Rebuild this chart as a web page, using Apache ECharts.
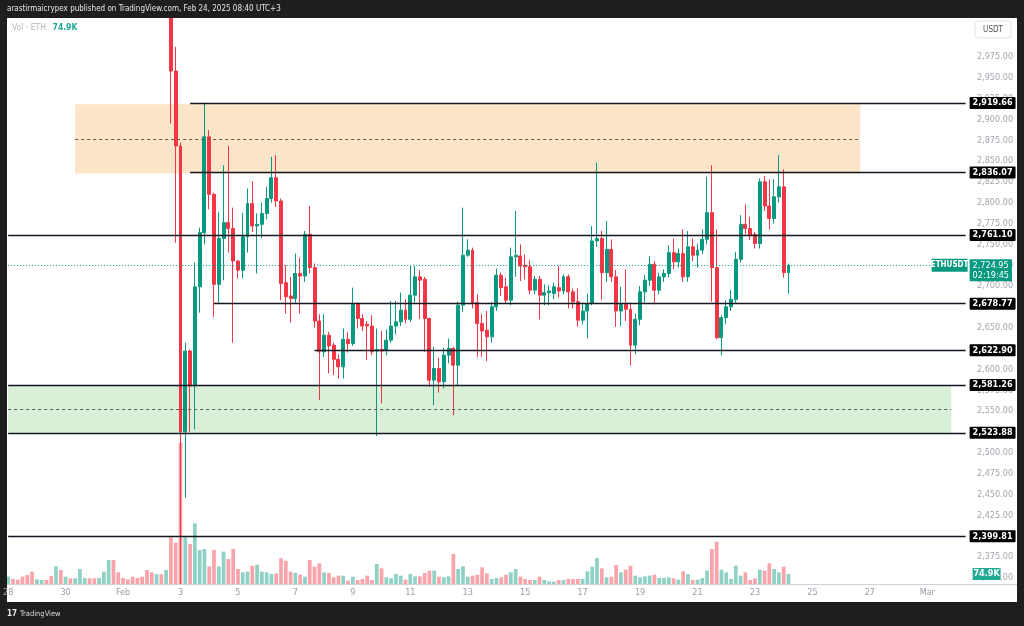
<!DOCTYPE html>
<html><head><meta charset="utf-8">
<script src="https://cdn.jsdelivr.net/npm/echarts@6/dist/echarts.min.js"></script>
<style>html,body{margin:0;padding:0;background:#1e1e1e;}#c{width:1024px;height:626px;}</style>
</head><body><div id="c"></div>
<script>
const FONT = "'Liberation Sans Narrow','DejaVu Sans Condensed','Noto Sans',sans-serif";

// 4h candles (UTC+3), first slot Jan 28 03:00
const slotCount = 201;
const timeTickDays = ['01-28','01-30','02-01','02-03','02-05','02-07','02-09','02-11','02-13','02-15','02-17','02-19','02-21','02-23','02-25','02-27','03-01'];
const timeTickLabels = ['28','30','Feb','3','5','7','9','11','13','15','17','19','21','23','25','27','Mar'];

// [open, close, low, high]
const ohlc = [
 [3160,3180,3148,3195],[3180,3150,3140,3188],[3150,3120,3110,3158],[3120,3100,3090,3128],[3100,3080,3068,3110],[3080,3070,3055,3092],
 [3070,3090,3062,3098],[3090,3110,3082,3120],[3110,3090,3080,3118],[3090,3075,3062,3100],[3075,3130,3068,3140],[3130,3110,3100,3138],
 [3110,3160,3104,3170],[3160,3150,3140,3168],[3150,3190,3145,3198],[3190,3240,3184,3252],[3240,3260,3232,3270],[3260,3245,3236,3266],
 [3245,3230,3220,3252],[3230,3260,3224,3268],[3260,3300,3254,3310],[3300,3380,3292,3400],[3380,3330,3320,3390],[3330,3300,3290,3338],
 [3300,3290,3280,3310],[3290,3270,3260,3298],[3270,3250,3240,3278],[3250,3230,3220,3258],[3230,3190,3180,3238],[3190,3140,3125,3196],
 [3140,3110,3095,3148],[3110,3130,3100,3138],[3130,3080,3062,3136],[3080,3100,3070,3112],
 [3100,2958,2895,3110],[2958,2868,2752,2987],
 [2868,2525,2120,2872],[2525,2622,2446,2632],[2622,2580,2525,2624],[2580,2699,2528,2728],[2699,2764,2668,2770],[2764,2879,2750,2920],
 [2879,2810,2792,2887],[2810,2702,2663,2812],[2702,2757,2679,2789],[2757,2776,2707,2845],[2776,2769,2740,2868],[2769,2730,2632,2794],
 [2730,2719,2709,2731],[2719,2759,2709,2788],[2759,2799,2740,2817],[2799,2772,2765,2826],[2772,2774,2715,2787],[2774,2787,2757,2800],
 [2787,2805,2780,2819],[2805,2830,2800,2855],[2830,2802,2795,2857],[2802,2703,2683,2805],[2704,2687,2667,2725],[2688,2685,2656,2711],
 [2685,2715,2679,2739],[2715,2712,2667,2734],[2712,2762,2705,2766],[2762,2722,2715,2796],[2722,2658,2650,2727],[2658,2621,2563,2666],
 [2621,2641,2615,2666],[2641,2628,2595,2645],[2629,2612,2593,2632],[2612,2603,2589,2618],[2603,2636,2589,2649],[2636,2631,2620,2645],
 [2631,2678,2628,2698],[2678,2661,2649,2680],[2661,2652,2646,2666],[2654,2652,2611,2658],[2652,2621,2617,2665],[2622,2624,2520,2649],
 [2624,2622,2559,2646],[2623,2635,2617,2648],[2635,2652,2632,2682],[2652,2657,2642,2682],[2657,2671,2652,2692],[2671,2660,2655,2684],
 [2660,2689,2657,2724],[2689,2711,2680,2724],[2711,2707,2660,2719],[2708,2661,2621,2711],[2661,2587,2579,2662],[2587,2601,2557,2627],
 [2601,2585,2572,2614],[2585,2617,2577,2626],[2617,2625,2607,2637],[2625,2605,2545,2627],[2605,2677,2581,2681],[2677,2737,2669,2794],
 [2737,2743,2735,2756],[2743,2679,2673,2746],[2680,2655,2615,2690],[2655,2646,2615,2666],[2647,2639,2610,2670],[2639,2675,2632,2681],
 [2675,2713,2670,2721],[2713,2698,2688,2716],[2699,2683,2679,2710],[2683,2735,2677,2746],[2735,2737,2711,2790],[2736,2724,2706,2750],
 [2725,2723,2708,2738],[2723,2695,2690,2731],[2695,2708,2690,2712],[2708,2689,2660,2712],[2689,2692,2677,2702],[2692,2694,2677,2701],
 [2691,2699,2684,2704],[2698,2694,2686,2724],[2694,2711,2690,2714],[2711,2693,2673,2714],[2693,2681,2673,2697],[2681,2659,2651,2697],
 [2659,2670,2654,2680],[2670,2679,2637,2691],[2679,2754,2677,2772],[2754,2757,2747,2848],[2757,2716,2683,2766],[2716,2744,2705,2778],
 [2744,2711,2705,2756],[2711,2670,2651,2719],[2670,2678,2652,2699],[2678,2672,2658,2720],[2672,2629,2605,2680],[2629,2660,2618,2667],
 [2660,2693,2653,2700],[2693,2707,2680,2713],[2707,2726,2700,2736],[2726,2695,2678,2730],[2695,2711,2690,2716],[2711,2715,2705,2720],
 [2715,2740,2710,2749],[2740,2729,2720,2757],[2729,2739,2722,2745],[2739,2711,2705,2768],[2711,2747,2705,2766],[2747,2737,2730,2757],
 [2737,2743,2722,2751],[2743,2756,2738,2768],[2756,2788,2750,2831],[2788,2722,2681,2845],[2722,2638,2636,2768],[2638,2662,2617,2665],
 [2662,2675,2654,2683],[2675,2684,2670,2695],[2684,2732,2680,2741],[2732,2774,2728,2785],[2774,2769,2762,2798],[2769,2761,2755,2783],
 [2762,2751,2745,2765],[2751,2825,2745,2829],[2825,2796,2790,2832],[2796,2781,2768,2828],[2781,2807,2775,2828],[2807,2819,2800,2857],
 [2819,2716,2710,2840],[2716,2724.95,2691,2727]
];

// volume, thousand ETH
const volumeK = [
 55,37.5,32.5,55,67.5,92.5,35,30,30,60,
 132.5,105,55,42.5,42.5,112.5,45,42.5,42.5,45,
 92.5,180,180,87.5,45,35,55,45,55,105,
 87.5,75,72.5,105,
 350,310,1062,350,300,455,
 255,262.5,132.5,255,132.5,242.5,187.5,262.5,112.5,87.5,
 92.5,137.5,145,92.5,87.5,75,80,192.5,175,92.5,
 82.5,70,55,180,130,155,87.5,82.5,50,62.5,
 62.5,25,55,30,37.5,62.5,30,150,117.5,50,
 42.5,75,62.5,32.5,75,57.5,57.5,82.5,100,100,
 55,50,57.5,225,112.5,132.5,55,62.5,70,125,
 80,37.5,45,50,
 70,87.5,112.5,55,37.5,30,30,55,30,20,
 17.5,30,30,37.5,37.5,37.5,37.5,95,130,195,
 117.5,50,55,142.5,87.5,107.5,137.5,62.5,50,57.5,
 62.5,70,45,45,50,42.5,32.5,95,75,30,
 32.5,45,100,262.5,317.5,107.5,87.5,37.5,137.5,62.5,
 87.5,30,42.5,107.5,100,155,112.5,87.5,130,74.9
];

const levelPrices = [2919.66, 2836.07, 2761.10, 2678.77, 2622.90, 2581.26, 2523.88, 2399.81];
const levelStart  = [38, 38, 0, 43, 64, 0, 0, 0];
const supplyZonePrices = [2835, 2918];
const supplyZoneSpan = [14, 178];
const demandZonePrices = [2523.88, 2581.26];
const demandZoneSpan = [0, 197];
const lastPrice = 2724.95;
const lastCountdown = '02:19:45';
const lastVolumeK = 74.9;
const priceTickRange = [2350, 2975];

// ---------- build ----------
const UP = '#089981', DOWN = '#f23645';
const pad = n => (n < 10 ? '0' : '') + n;
const categories = [];
const t0 = Date.UTC(2025, 0, 28, 3);
for (let i = 0; i < slotCount; i++) {
  const d = new Date(t0 + i * 4 * 3600 * 1000);
  categories.push(pad(d.getUTCMonth() + 1) + '-' + pad(d.getUTCDate()) + ' ' + pad(d.getUTCHours()) + ':00');
}
const tickMap = {};
timeTickDays.forEach((d, i) => { tickMap[d + ' 03:00'] = timeTickLabels[i]; });
const lastIdx = slotCount - 1;
const fmt = v => v.toLocaleString('en-US', {minimumFractionDigits: 2, maximumFractionDigits: 2});

const levelLines = levelPrices.map((p, i) => [
  {coord: [levelStart[i], p], lineStyle: {color: '#131722', width: 1.4, type: 'solid'},
   label: {show: true, position: 'end', distance: 4, formatter: fmt(p), backgroundColor: '#000', color: '#fff',
           fontWeight: 'bold', fontSize: 9, fontFamily: FONT, padding: [2, 3, 1, 3], borderRadius: 1}},
  {coord: [lastIdx, p]}
]);
const midSupply = (supplyZonePrices[0] + supplyZonePrices[1]) / 2;
const midDemand = (demandZonePrices[0] + demandZonePrices[1]) / 2;
const dashLines = [
  [{coord: [supplyZoneSpan[0], midSupply], lineStyle: {color: '#6b5a48', width: 1, type: [3, 3]}, label: {show: false}}, {coord: [supplyZoneSpan[1], midSupply]}],
  [{coord: [demandZoneSpan[0], midDemand], lineStyle: {color: '#55605a', width: 1, type: [3, 3]}, label: {show: false}}, {coord: [demandZoneSpan[1], midDemand]}]
];
const lastLine = [
  {coord: [0, lastPrice], lineStyle: {color: UP, width: 1, type: [1, 2]},
   label: {show: true, position: 'end', distance: 4, formatter: fmt(lastPrice) + '\n' + lastCountdown, backgroundColor: UP,
           color: '#fff', fontSize: 9, fontFamily: FONT, lineHeight: 10, padding: [1, 3, 1, 3], offset: [0, 5]}},
  {coord: [lastIdx, lastPrice]}
];

const volData = volumeK.map((v, i) => ({value: v, itemStyle: {color: ohlc[i][1] >= ohlc[i][0] ? 'rgba(8,153,129,0.45)' : 'rgba(242,54,69,0.45)'}}));

const option = {
  animation: false,
  backgroundColor: '#1e1e1e',
  textStyle: {fontFamily: FONT},
  grid: [
    {left: 5, right: 56, top: 18, bottom: 42},
    {left: 5, right: 56, top: 15.2, bottom: 27.5}
  ],
  xAxis: [
    {type: 'category', gridIndex: 0, data: categories, boundaryGap: true, z: 110,
     axisLine: {show: false}, axisTick: {show: false}, splitLine: {show: false},
     axisLabel: {interval: (idx, val) => tickMap[val] !== undefined, formatter: val => tickMap[val] || '',
                 color: '#9a9da6', fontSize: 9, margin: 4, fontFamily: FONT}},
    {type: 'value', gridIndex: 1, min: 0, max: 1, show: false}
  ],
  yAxis: [
    {type: 'value', gridIndex: 0, min: 2342.4, max: 3021.6, show: false, scale: true},
    {type: 'value', gridIndex: 0, min: 0, max: 4245, show: false},
    {type: 'value', gridIndex: 1, min: 2325, max: 3025, interval: 25, position: 'right',
     axisLine: {show: false}, axisTick: {show: false}, splitLine: {show: false},
     axisLabel: {margin: 9, color: '#a3a6ae', fontSize: 9, fontFamily: FONT,
                 formatter: v => (v >= priceTickRange[0] && v <= priceTickRange[1]) ? fmt(v) : ''}}
  ],
  series: [
    {type: 'bar', name: 'Volume', xAxisIndex: 0, yAxisIndex: 1, data: volData, barCategoryGap: '22%',
     markPoint: {silent: true, animation: false, data: [
       {coord: [lastIdx, lastVolumeK], symbol: 'rect', symbolSize: [28, 12], symbolOffset: [21, 0],
        itemStyle: {color: '#22ab94'},
        label: {show: true, position: 'inside', formatter: lastVolumeK + 'K', color: '#fff', fontSize: 9, fontWeight: 'bold', fontFamily: FONT}}]}},
    {type: 'candlestick', name: 'ETHUSDT', xAxisIndex: 0, yAxisIndex: 0, data: ohlc, barWidth: '72%',
     itemStyle: {color: UP, color0: DOWN, borderColor: UP, borderColor0: DOWN, borderColorDoji: UP, borderWidth: 1},
     markArea: {silent: true, data: [
       [{coord: [supplyZoneSpan[0], supplyZonePrices[1]], itemStyle: {color: '#fde5c9'}}, {coord: [supplyZoneSpan[1], supplyZonePrices[0]]}],
       [{coord: [demandZoneSpan[0], demandZonePrices[1]], itemStyle: {color: '#d9efd8'}}, {coord: [demandZoneSpan[1], demandZonePrices[0]]}]
     ]},
     markLine: {silent: true, symbol: ['none', 'none'], animation: false,
       data: dashLines.concat([lastLine]).concat(levelLines)},
     markPoint: {silent: true, animation: false, data: [
       {coord: [lastIdx, lastPrice], symbol: 'rect', symbolSize: [36, 13], symbolOffset: [-16, 0],
        itemStyle: {color: UP},
        label: {show: true, position: 'inside', formatter: 'ETHUSDT', color: '#fff', fontSize: 8, fontWeight: 'bold', fontFamily: FONT}}]}}
  ],
  graphic: [
    {type: 'rect', z: -100, shape: {x: 7, y: 18, width: 1010, height: 584}, style: {fill: '#ffffff'}},
    {type: 'rect', z: 100, shape: {x: 0, y: 0, width: 1024, height: 18}, style: {fill: '#1e1e1e'}},
    {type: 'rect', z: 100, shape: {x: 0, y: 18, width: 7, height: 608}, style: {fill: '#1e1e1e'}},
    {type: 'rect', z: 100, shape: {x: 7, y: 584.5, width: 961, height: 17.5}, style: {fill: '#ffffff'}},
    {type: 'rect', z: 100, shape: {x: 0, y: 602, width: 1024, height: 24}, style: {fill: '#1e1e1e'}},
    {type: 'line', z: 101, shape: {x1: 7, y1: 584.5, x2: 1017, y2: 584.5}, style: {stroke: '#cfd2d8', lineWidth: 1}},
    {type: 'text', z: 102, x: 7, y: 9, style: {text: 'arastirmaicrypex published on TradingView.com, Feb 24, 2025 08:40 UTC+3',
      fill: '#e6e6e6', font: '8px ' + FONT, verticalAlign: 'middle'}},
    {type: 'text', z: 102, x: 12, y: 28, style: {text: '{a|Vol · ETH}  {b|74.9K}', verticalAlign: 'middle',
      rich: {a: {fill: '#b2b5be', fontSize: 8.5, fontFamily: FONT}, b: {fill: '#22ab94', fontSize: 8.5, fontWeight: 'bold', fontFamily: FONT}}}},
    {type: 'rect', z: 102, shape: {x: 975, y: 21, width: 36, height: 17, r: 3}, style: {fill: '#fff', stroke: '#e0e3eb', lineWidth: 1}},
    {type: 'text', z: 103, x: 993, y: 29.5, style: {text: 'USDT', fill: '#555', font: '8px ' + FONT, align: 'center', verticalAlign: 'middle'}},
    {type: 'text', z: 102, x: 7, y: 614, style: {text: '17', fill: '#e8e8e8', font: 'bold 8px ' + FONT, verticalAlign: 'middle'}},
    {type: 'text', z: 102, x: 20, y: 614, style: {text: 'TradingView', fill: '#d8d8d8', font: '7.5px ' + FONT, verticalAlign: 'middle'}}
  ]
};

const chart = echarts.init(document.getElementById('c'), null, {renderer: 'canvas', width: 1024, height: 626});
chart.setOption(option);
</script>
</body></html>
